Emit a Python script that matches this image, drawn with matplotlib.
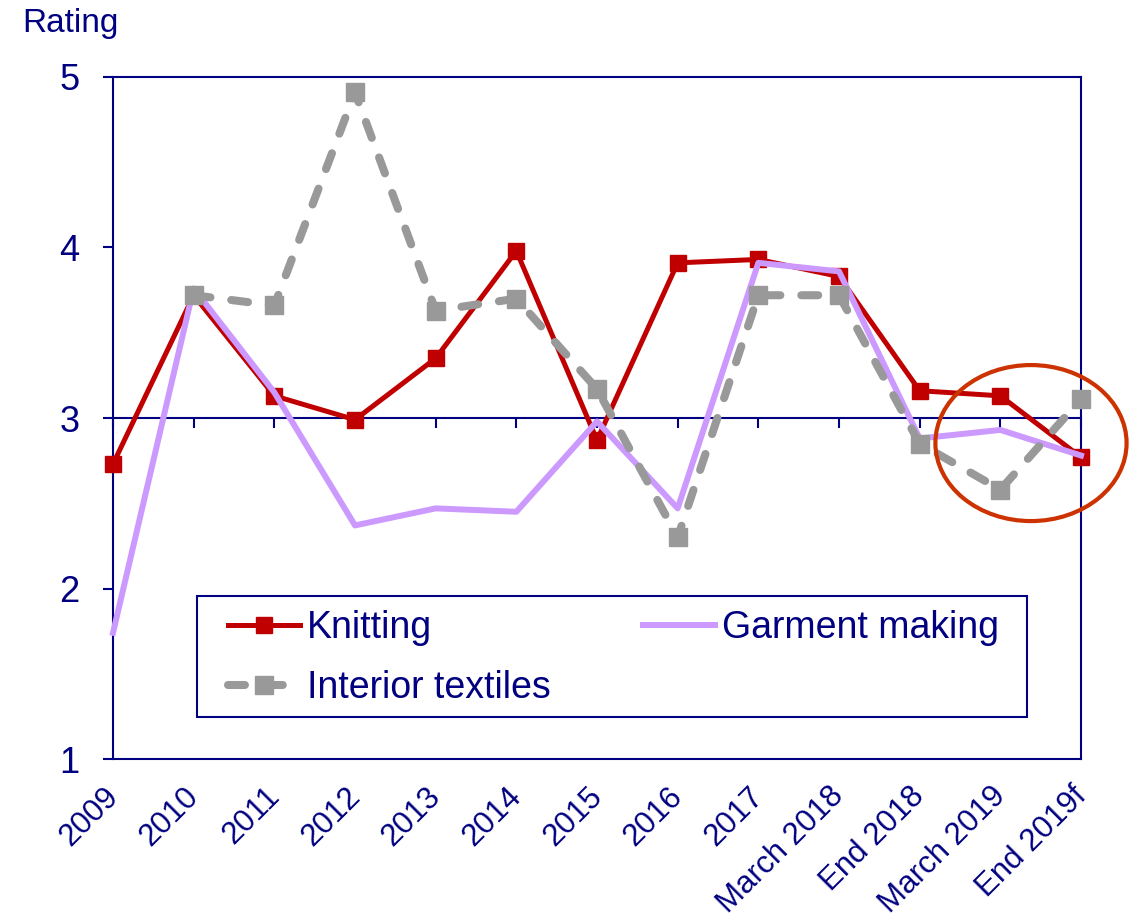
import matplotlib
matplotlib.use("Agg")
import matplotlib.pyplot as plt
import matplotlib.transforms as mtransforms
from matplotlib.patches import Ellipse, Rectangle
import numpy as np

categories = ["2009", "2010", "2011", "2012", "2013", "2014", "2015", "2016",
              "2017", "March 2018", "End 2018", "March 2019", "End 2019f"]
knitting = [2.73, 3.72, 3.13, 2.99, 3.35, 3.98, 2.87, 3.91, 3.93, 3.83, 3.16, 3.13, 2.77]
garment = [1.74, 3.76, 3.15, 2.37, 2.47, 2.45, 2.98, 2.47, 3.91, 3.86, 2.88, 2.93, 2.78]
interior = [np.nan, 3.72, 3.66, 4.91, 3.63, 3.70, 3.17, 2.30, 3.72, 3.72, 2.85, 2.58, 3.11]
y_ticks = [1, 2, 3, 4, 5]

NAVY = "#000080"
plt.rcParams["font.family"] = ["Liberation Sans", "DejaVu Sans"]

W, H = 1140, 921
fig = plt.figure(figsize=(W / 100, H / 100), dpi=100)
ax = fig.add_axes([113 / W, 1 - 759 / H, 968 / W, 682 / H])

x = np.arange(len(categories))
ax.plot(x, knitting, color="#C00000", lw=3.6, marker="s", ms=12,
        label="Knitting", zorder=3, clip_on=False)
ax.plot(x, garment, color="#CC99FF", lw=4.3, label="Garment making", zorder=4,
        clip_on=False)
ax.plot(x, interior, color="#999999", lw=5.8, ls=(0, (2.1, 2.6)),
        dash_capstyle="round", marker="s", ms=12.5, label="Interior textiles",
        zorder=5, clip_on=False)

ax.set_xlim(0, len(categories) - 1)
ax.set_ylim(1, 5)
ax.set_yticks(y_ticks)
ax.set_yticklabels([str(v) for v in y_ticks])
ax.tick_params(axis="y", direction="out", length=7, width=1.5, color=NAVY,
               labelcolor=NAVY, labelsize=26, pad=17)

# horizontal axis crosses at 3
ax.spines["bottom"].set_position(("data", 3))
ax.set_xticks(x)
ax.tick_params(axis="x", direction="out", length=7, width=1.5, color=NAVY,
               labelbottom=False)
for s in ax.spines.values():
    s.set_color(NAVY)
    s.set_linewidth(1.5)

# bottom frame with category labels
sec = ax.secondary_xaxis("bottom")
sec.set_xticks(x)
sec.set_xticklabels(categories, rotation=45, ha="right", rotation_mode="anchor",
                    fontsize=22.5, color=NAVY)
sec.tick_params(axis="x", length=0, pad=16)
sec.spines["bottom"].set_color(NAVY)
sec.spines["bottom"].set_linewidth(1.5)
shift = mtransforms.ScaledTranslation(-10 / 100, 0, fig.dpi_scale_trans)
for lab in sec.get_xticklabels():
    lab.set_transform(lab.get_transform() + shift)

# highlight ellipse
ell = Ellipse((11.38, 2.853), 2.37, 0.915, fill=False, edgecolor="#CC3300",
              lw=3, clip_on=False, zorder=6)
ax.add_patch(ell)

# legend box
box = Rectangle((197 / W, 1 - 717 / H), (1027 - 197) / W, (717 - 596) / H,
                transform=fig.transFigure, facecolor="white", edgecolor=NAVY,
                lw=1.5, zorder=7)
fig.add_artist(box)

h, l = ax.get_legend_handles_labels()
order = [0, 2, 1]
leg = fig.legend([h[i] for i in order], [l[i] for i in order], ncol=2,
                 loc="upper left", bbox_to_anchor=(228 / W, 1 - 610 / H),
                 fontsize=27, frameon=False,
                 handlelength=1.92, handletextpad=0.19, labelspacing=0.63,
                 borderaxespad=0, borderpad=0, columnspacing=2.45)
leg.set_zorder(8)
for t in leg.get_texts():
    t.set_color(NAVY)

fig.text(22 / W, 1 - 32 / H, "Rating", fontsize=24, color=NAVY, va="baseline")

fig.savefig("out.png", dpi=100)
